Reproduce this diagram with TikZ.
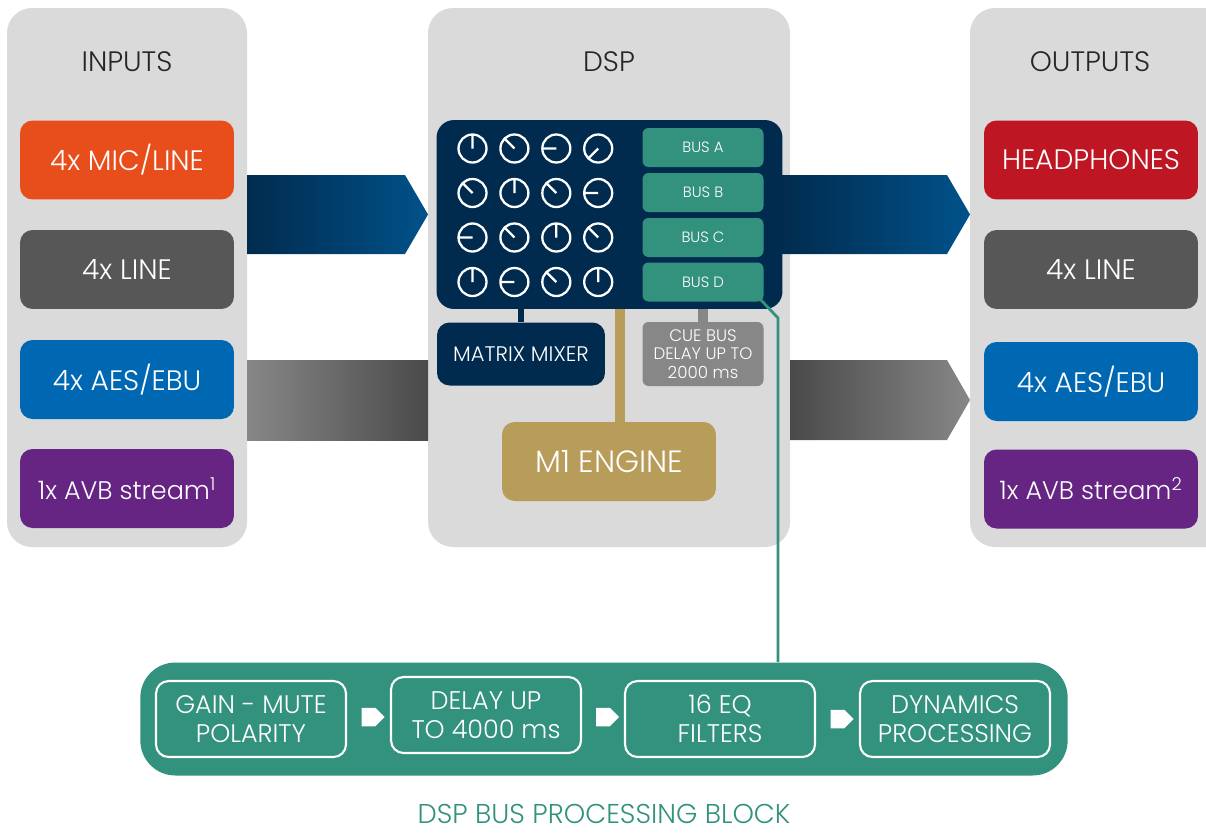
\documentclass[tikz,border=0pt]{standalone}
\usepackage{fontspec}
\setmainfont{Poppins}[UprightFont=* Light]
\usetikzlibrary{calc,shapes.symbols}

\definecolor{panelgray}{HTML}{DADADA}
\definecolor{micorange}{HTML}{E84E1B}
\definecolor{linegray}{HTML}{575757}
\definecolor{aesblue}{HTML}{0068B3}
\definecolor{avbpurple}{HTML}{662483}
\definecolor{phonered}{HTML}{BE1622}
\definecolor{dspnavy}{HTML}{012B4E}
\definecolor{arrowblue}{HTML}{00528A}
\definecolor{busteal}{HTML}{32927E}
\definecolor{enginegold}{HTML}{B89C5A}
\definecolor{cuegray}{HTML}{878787}
\definecolor{darkbar}{HTML}{4A4A4A}

\begin{document}
\begin{tikzpicture}[x=0.02cm, y=-0.02cm,
    panel/.style={fill=panelgray, rounded corners=0.5cm},
    iobox/.style={rounded corners=0.25cm, minimum width=4.28cm, minimum height=1.58cm, inner sep=0pt, text=white, font=\fontsize{16}{18}\selectfont},
    busbox/.style={fill=busteal, rounded corners=0.12cm, minimum width=2.42cm, minimum height=0.78cm, inner sep=0pt, text=white, font=\fontsize{8.5}{10}\selectfont},
    stepbox/.style={draw=white, line width=1.2pt, rounded corners=0.25cm, minimum width=3.8cm, minimum height=1.52cm, inner sep=0pt, text=white, align=center, font=\fontsize{14.5}{16.5}\selectfont},
    flowtip/.style={signal, signal to=east, fill=white, minimum width=0.46cm, minimum height=0.37cm, inner sep=0pt},
    knob/.style={white, line width=1.3pt},
    title/.style={text=black!85, font=\fontsize{16}{18}\selectfont}]

    \useasboundingbox (0,0) rectangle (1206,832);

    % Panels
    \fill[panel] (7,8) rectangle (247,547);
    \fill[panel] (428,8) rectangle (790,547);
    \fill[panel] (970,8) rectangle (1240,547);
    \node[title] (intitle) at (127,62) {INPUTS};
    \node[title] (dsptitle) at (609,62) {DSP};
    \node[title] (outtitle) at (1090,62) {OUTPUTS};

    % Inputs
    \node[iobox, fill=micorange] (inmic) at (127,160) {4x MIC/LINE};
    \node[iobox, fill=linegray] (inline) at (127,269.5) {4x LINE};
    \node[iobox, fill=aesblue] (inaes) at (127,379.5) {4x AES/EBU};
    \node[iobox, fill=avbpurple, font=\fontsize{14.5}{17}\selectfont] (inavb) at (127,488.5) {1x AVB stream\textsuperscript{1}};

    % Outputs
    \node[iobox, fill=phonered] (outphones) at (1091,160) {HEADPHONES};
    \node[iobox, fill=linegray] (outline) at (1091,269.5) {4x LINE};
    \node[iobox, fill=aesblue] (outaes) at (1091,381.5) {4x AES/EBU};
    \node[iobox, fill=avbpurple, font=\fontsize{14.5}{17}\selectfont] (outavb) at (1091,489) {1x AVB stream\textsuperscript{2}};

    % Signal arrows
    \shade[left color=dspnavy, right color=arrowblue] (247,175) -- (405,175) -- (428,214.5) -- (405,254) -- (247,254) -- cycle;
    \shade[left color=cuegray, right color=darkbar] (247,360) rectangle (428,440);
    \shade[left color=dspnavy, right color=arrowblue] (782,175) -- (947,175) -- (970,214.5) -- (947,254) -- (782,254) -- cycle;
    \shade[left color=darkbar, right color=cuegray] (790,360) -- (947,360) -- (970,400) -- (947,440) -- (790,440) -- cycle;

    % DSP block
    \node[fill=dspnavy, rounded corners=0.35cm, minimum width=6.92cm, minimum height=3.78cm, inner sep=0pt] (mixgrid) at (609.5,214.5) {};
    \foreach \a [count=\i from 0] in {90,135,180,225, 135,90,135,180, 180,135,90,135, 90,180,135,90} {
        \pgfmathtruncatemacro\col{mod(\i,4)}
        \pgfmathtruncatemacro\row{div(\i,4)}
        \draw[knob] (472.5+41.9*\col, 148.5+44.5*\row) circle (14) -- ++(-\a:14);
    }
    \node[busbox] (busa) at (703,147.5) {BUS A};
    \node[busbox] (busb) at (703,192.5) {BUS B};
    \node[busbox] (busc) at (703,237.5) {BUS C};
    \node[busbox] (busd) at (703,282) {BUS D};

    \node[fill=dspnavy, rounded corners=0.25cm, minimum width=3.36cm, minimum height=1.26cm, inner sep=0pt, text=white, font=\fontsize{12}{14}\selectfont] (mixer) at (521,354) {MATRIX MIXER};
    \node[fill=cuegray, rounded corners=0.12cm, minimum width=2.42cm, minimum height=1.28cm, inner sep=0pt, text=white, align=center, font=\fontsize{9.5}{10.5}\selectfont] (cuebus) at (703,354) {CUE BUS\\DELAY UP TO\\2000 ms};
    \node[iobox, fill=enginegold, font=\fontsize{17.5}{19}\selectfont] (engine) at (609,461.5) {M1 ENGINE};

    \draw[dspnavy, line width=3pt] (mixgrid.south -| mixer.north) -- (mixer.north);
    \draw[cuegray, line width=0.2cm] (mixgrid.south -| cuebus.north) -- (cuebus.north);
    \draw[enginegold, line width=0.2cm] (mixgrid.south -| 620,0) -- (engine.north -| 620,0);

    % Bus processing
    \node[fill=busteal, rounded corners=0.7cm, minimum width=18.55cm, minimum height=2.26cm, inner sep=0pt] (procblock) at (604,719) {};
    \coordinate (bend) at (778,318);
    \draw[busteal, line width=1.6pt] (busd.south east) ++(-3,-2) -- (bend) -- (bend |- procblock.north);

    \node[stepbox] (gain) at (251,719) {GAIN - MUTE\\POLARITY};
    \node[stepbox] (delay) at (486,715) {DELAY UP\\TO 4000 ms};
    \node[stepbox] (eq) at (720,719) {16 EQ\\FILTERS};
    \node[stepbox] (dyn) at (955,719) {DYNAMICS\\PROCESSING};
    \node[flowtip] at ($(gain.east)!0.5!(delay.west)$) {};
    \node[flowtip] at ($(delay.east)!0.5!(eq.west)$) {};
    \node[flowtip] at ($(eq.east)!0.5!(dyn.west)$) {};

    \node[text=busteal, inner sep=0pt, font=\fontsize{15.5}{17}\selectfont] (caption) at (604,814) {DSP BUS PROCESSING BLOCK};
\end{tikzpicture}
\end{document}
